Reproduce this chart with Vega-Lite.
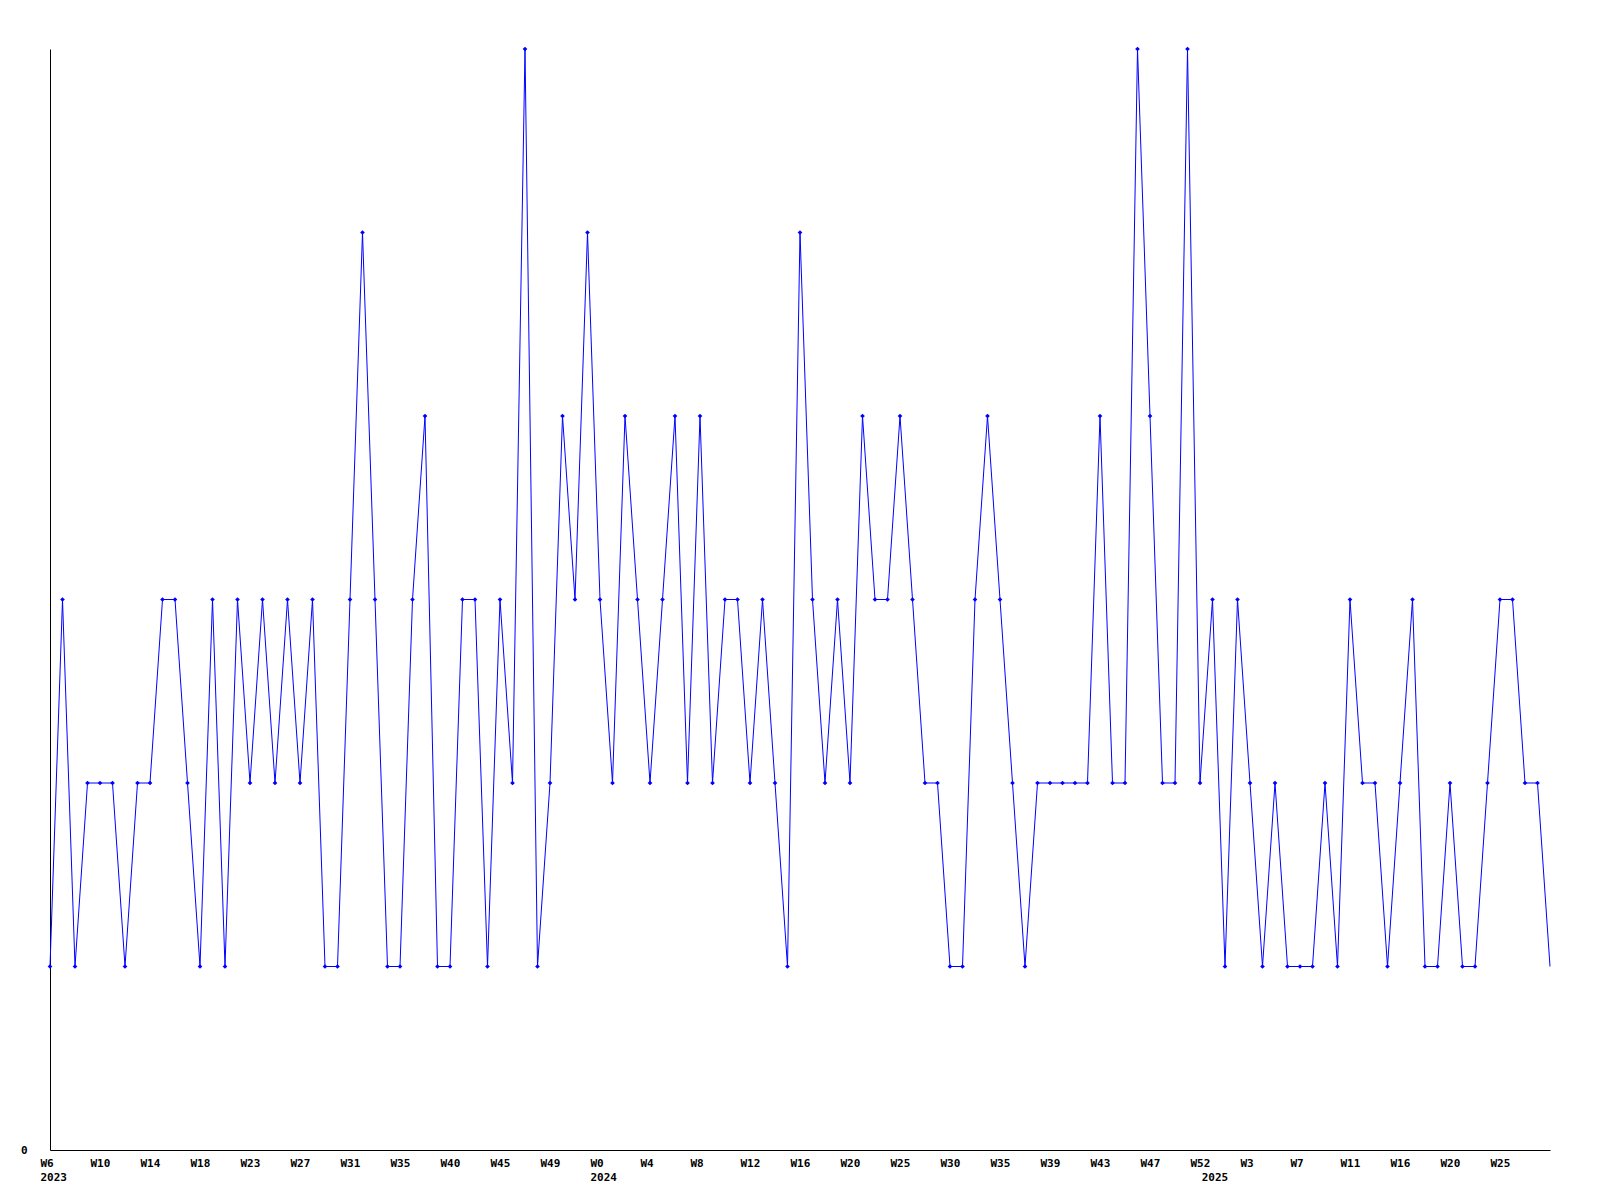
{
  "$schema": "https://vega.github.io/schema/vega-lite/v6.json",
  "width": 1500,
  "height": 1101,
  "autosize": "none",
  "padding": {"left": 50, "top": 49, "right": 50, "bottom": 50},
  "background": "white",
  "config": {"view": {"stroke": null}},
  "data": {"values": [
    {"i":0,"v":1},{"i":1,"v":3},{"i":2,"v":1},{"i":3,"v":2},{"i":4,"v":2},{"i":5,"v":2},{"i":6,"v":1},{"i":7,"v":2},{"i":8,"v":2},{"i":9,"v":3},
    {"i":10,"v":3},{"i":11,"v":2},{"i":12,"v":1},{"i":13,"v":3},{"i":14,"v":1},{"i":15,"v":3},{"i":16,"v":2},{"i":17,"v":3},{"i":18,"v":2},{"i":19,"v":3},
    {"i":20,"v":2},{"i":21,"v":3},{"i":22,"v":1},{"i":23,"v":1},{"i":24,"v":3},{"i":25,"v":5},{"i":26,"v":3},{"i":27,"v":1},{"i":28,"v":1},{"i":29,"v":3},
    {"i":30,"v":4},{"i":31,"v":1},{"i":32,"v":1},{"i":33,"v":3},{"i":34,"v":3},{"i":35,"v":1},{"i":36,"v":3},{"i":37,"v":2},{"i":38,"v":6},{"i":39,"v":1},
    {"i":40,"v":2},{"i":41,"v":4},{"i":42,"v":3},{"i":43,"v":5},{"i":44,"v":3},{"i":45,"v":2},{"i":46,"v":4},{"i":47,"v":3},{"i":48,"v":2},{"i":49,"v":3},
    {"i":50,"v":4},{"i":51,"v":2},{"i":52,"v":4},{"i":53,"v":2},{"i":54,"v":3},{"i":55,"v":3},{"i":56,"v":2},{"i":57,"v":3},{"i":58,"v":2},{"i":59,"v":1},
    {"i":60,"v":5},{"i":61,"v":3},{"i":62,"v":2},{"i":63,"v":3},{"i":64,"v":2},{"i":65,"v":4},{"i":66,"v":3},{"i":67,"v":3},{"i":68,"v":4},{"i":69,"v":3},
    {"i":70,"v":2},{"i":71,"v":2},{"i":72,"v":1},{"i":73,"v":1},{"i":74,"v":3},{"i":75,"v":4},{"i":76,"v":3},{"i":77,"v":2},{"i":78,"v":1},{"i":79,"v":2},
    {"i":80,"v":2},{"i":81,"v":2},{"i":82,"v":2},{"i":83,"v":2},{"i":84,"v":4},{"i":85,"v":2},{"i":86,"v":2},{"i":87,"v":6},{"i":88,"v":4},{"i":89,"v":2},
    {"i":90,"v":2},{"i":91,"v":6},{"i":92,"v":2},{"i":93,"v":3},{"i":94,"v":1},{"i":95,"v":3},{"i":96,"v":2},{"i":97,"v":1},{"i":98,"v":2},{"i":99,"v":1},
    {"i":100,"v":1},{"i":101,"v":1},{"i":102,"v":2},{"i":103,"v":1},{"i":104,"v":3},{"i":105,"v":2},{"i":106,"v":2},{"i":107,"v":1},{"i":108,"v":2},{"i":109,"v":3},
    {"i":110,"v":1},{"i":111,"v":1},{"i":112,"v":2},{"i":113,"v":1},{"i":114,"v":1},{"i":115,"v":2},{"i":116,"v":3},{"i":117,"v":3},{"i":118,"v":2},{"i":119,"v":2},
    {"i":120,"v":1}
  ]},
  "encoding": {
    "x": {
      "field": "i",
      "type": "quantitative",
      "scale": {"domain": [0, 120], "nice": false, "zero": false},
      "axis": {
        "title": null,
        "grid": false,
        "ticks": false,
        "domainColor": "black",
        "domainWidth": 1,
        "values": [0,4,8,12,16,20,24,28,32,36,40,44,48,52,56,60,64,68,72,76,80,84,88,92,92.9,96,100,104,108,112,116],
        "labelExpr": "datum.value == 92.9 ? ['', '2025'] : [['W6','2023'],'W10','W14','W18','W23','W27','W31','W35','W40','W45','W49',['W0','2024'],'W4','W8','W12','W16','W20','W25','W30','W35','W39','W43','W47','W52','W3','W7','W11','W16','W20','W25'][datum.value/4]",
        "labelAlign": "left",
        "labelOffset": -10,
        "labelPadding": 7,
        "labelBaseline": "top",
        "labelLineHeight": 14,
        "labelFont": "DejaVu Sans Mono",
        "labelFontWeight": "bold",
        "labelFontSize": 11,
        "labelColor": "black",
        "labelOverlap": false,
        "labelFlush": false,
        "labelBound": false
      }
    },
    "y": {
      "field": "v",
      "type": "quantitative",
      "scale": {"domain": [0, 6], "nice": false},
      "axis": {
        "title": null,
        "grid": false,
        "ticks": false,
        "domainColor": "black",
        "domainWidth": 1,
        "values": [0],
        "labelPadding": 23,
        "labelFont": "DejaVu Sans Mono",
        "labelFontWeight": "bold",
        "labelFontSize": 11,
        "labelColor": "black"
      }
    }
  },
  "layer": [
    {"mark": {"type": "line", "color": "#0000ff", "strokeWidth": 1, "clip": false}},
    {
      "transform": [{"filter": "datum.i < 120"}],
      "mark": {"type": "point", "shape": "diamond", "filled": true, "color": "#0000ff", "size": 22, "opacity": 1}
    }
  ]
}
